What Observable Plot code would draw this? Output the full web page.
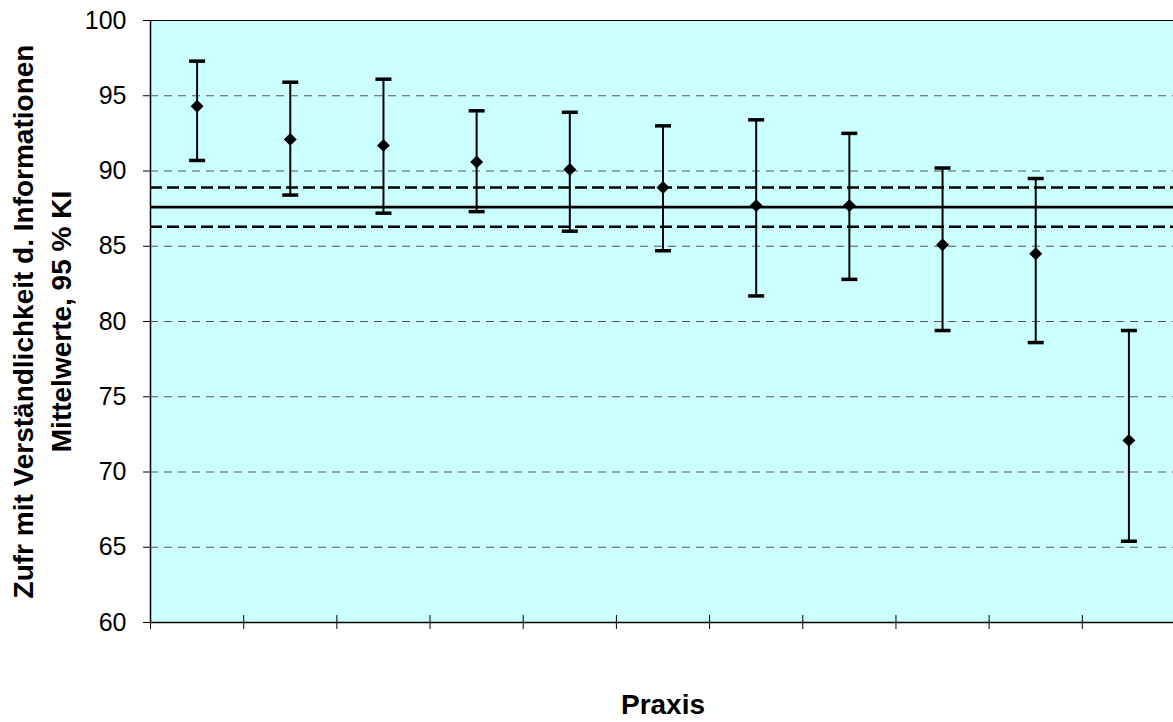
<!DOCTYPE html>
<html>
<head>
<meta charset="utf-8">
<script src="https://cdn.jsdelivr.net/npm/d3@7"></script>
<script src="https://cdn.jsdelivr.net/npm/@observablehq/plot@0.6"></script>
<style>
  html, body { margin: 0; padding: 0; background: #ffffff; overflow: hidden; }
</style>
</head>
<body>
<div id="chart"></div>
<script>
// ---- Data ----
const praxen = ["1", "2", "3", "4", "5", "6", "7", "8", "9", "10", "11"];
const mittelwerte  = [94.3, 92.1, 91.7, 90.6, 90.1, 88.9, 87.7, 87.7, 85.1, 84.5, 72.1];
const obereGrenze  = [97.3, 95.9, 96.1, 94.0, 93.9, 93.0, 93.4, 92.5, 90.2, 89.5, 79.4];
const untereGrenze = [90.7, 88.4, 87.2, 87.3, 86.0, 84.7, 81.7, 82.8, 79.4, 78.6, 65.4];
const gesamtMittel = [87.6];
const gesamtKI = [88.9, 86.3];
const yTicks = [60, 65, 70, 75, 80, 85, 90, 95, 100];
const gridTicks = [65, 70, 75, 80, 85, 90, 95];
const yTitel = "Zufr mit Verständlichkeit d. Informationen\nMittelwerte, 95 % KI";
const xTitel = "Praxis";

// table built from the arrays
const data = praxen.map((p, i) => ({
  praxis: p,
  pos: i + 0.5,
  mean: mittelwerte[i],
  hi: obereGrenze[i],
  lo: untereGrenze[i]
}));
const xGrenzen = d3.range(0, praxen.length + 1);

// horizontal cap symbol for the error bars
const capSymbol = {
  draw(ctx, size) {
    const r = Math.sqrt(size / Math.PI);
    ctx.moveTo(-r, 0);
    ctx.lineTo(r, 0);
  }
};

const chart = Plot.plot({
  width: 1173,
  height: 722,
  marginLeft: 150,
  marginRight: -2,
  marginTop: 20,
  marginBottom: 100,
  x: { domain: [0, praxen.length], axis: null },
  y: { domain: [60, 100], axis: null },
  style: { fontFamily: "'Liberation Sans', Arial, sans-serif", color: "black", background: "white", overflow: "visible" },
  marks: [
    Plot.frame({ fill: "#ccffff", stroke: null }),
    Plot.ruleY(gridTicks, { stroke: "#555555", strokeWidth: 1, strokeDasharray: "8,6" }),
    Plot.ruleY(gesamtKI, { stroke: "black", strokeWidth: 2.5, strokeDasharray: "12,5" }),
    Plot.ruleY(gesamtMittel, { stroke: "black", strokeWidth: 2.8 }),
    Plot.ruleX(data, { x: "pos", y1: "lo", y2: "hi", stroke: "black", strokeWidth: 2 }),
    Plot.dot(data, { x: "pos", y: "hi", symbol: capSymbol, r: 8, fill: "none", stroke: "black", strokeWidth: 3.5 }),
    Plot.dot(data, { x: "pos", y: "lo", symbol: capSymbol, r: 8, fill: "none", stroke: "black", strokeWidth: 3.5 }),
    Plot.dot(data, { x: "pos", y: "mean", symbol: "diamond2", r: 5.8, fill: "black", stroke: null }),
    Plot.ruleY([100], { stroke: "black", strokeWidth: 1 }),
    Plot.ruleY([60], { stroke: "black", strokeWidth: 1.5 }),
    Plot.ruleX([0], { stroke: "black", strokeWidth: 1.5 }),
    Plot.ruleX(xGrenzen, { y1: 60, y2: 60, insetTop: -7, insetBottom: -7, stroke: "black", strokeWidth: 1 }),
    Plot.axisY(yTicks, { tickSize: 7, tickPadding: 17, fontSize: 25, label: null, stroke: "black" }),
    Plot.text([yTitel], { frameAnchor: "left", textAnchor: "middle", rotate: -90, dx: -111, fontSize: 28, fontWeight: "bold", lineHeight: 1.39, fill: "black" }),
    Plot.text([xTitel], { frameAnchor: "bottom", dy: 91, fontSize: 28, fontWeight: "bold", fill: "black" })
  ]
});
document.getElementById("chart").appendChild(chart);
</script>
</body>
</html>
